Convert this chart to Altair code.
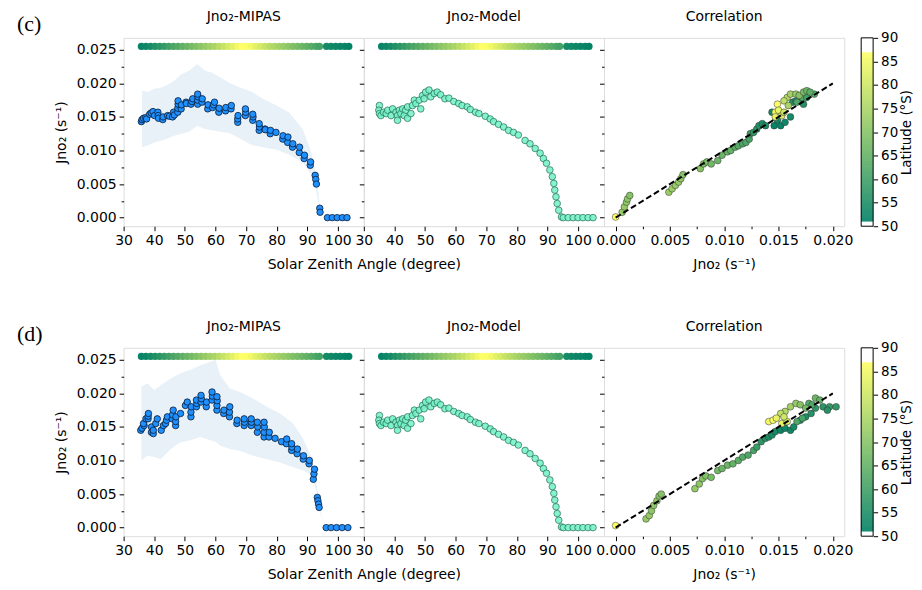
import altair as alt
import pandas as pd
import numpy as np

FONT = "DejaVu Sans"
W, H = 241, 189
CB_GAP, CB_W = 17, 12

# ---------------- data ----------------
TOP_J = 0.0255
top_sza = [35.8, 37.3, 38.8, 40.3, 41.8, 43.3, 44.8, 46.3, 47.8, 49.3, 50.8, 52.3, 53.8,
           55.3, 56.8, 58.3, 59.8, 61.3, 62.8, 64.3, 65.8, 67.3, 68.8, 70.3, 71.8, 73.3,
           74.8, 76.3, 77.8, 79.3, 80.8, 82.3, 83.8, 85.3, 86.8, 88.3, 89.8, 91.3, 92.8,
           94.0, 96.3, 97.8, 99.3, 100.8, 102.3, 103.6]
top_lat = [52, 53, 54, 55.5, 57, 58.5, 60, 61.5, 63, 64.5, 66, 67.5, 69,
           70.5, 72, 73.5, 75, 77, 79, 81, 83, 85, 86.9, 86.5, 85, 83,
           81, 79, 77, 75.5, 74, 72.5, 71, 69.5, 68, 66.5, 65, 63.5, 62,
           60.5, 54, 53.5, 53, 52.5, 52, 51.5]

# MIPAS (c): (SZA, Jno2)
mipas_c = [(35.8, 0.0143), (36.0, 0.0146), (36.5, 0.0148), (37.2, 0.0149), (37.5, 0.0147),
           (38.5, 0.0154), (39.0, 0.0156), (39.6, 0.0158), (40.1, 0.0152),
           (41.2, 0.0157), (41.3, 0.0152), (41.4, 0.0148), (42.8, 0.0146), (42.9, 0.0150),
           (44.4, 0.0152), (45.0, 0.0151), (46.0, 0.0150), (46.3, 0.0157), (46.6, 0.0153),
           (47.7, 0.0157), (47.7, 0.0163), (47.8, 0.0169), (47.8, 0.0174),
           (48.8, 0.0162), (48.9, 0.0168), (50.4, 0.0172), (50.5, 0.0170),
           (52.0, 0.0169), (52.3, 0.0173), (52.6, 0.0177),
           (54.2, 0.0169), (54.2, 0.0175), (54.3, 0.0180), (54.2, 0.0184),
           (55.6, 0.0172), (55.7, 0.0177), (57.5, 0.0162), (57.6, 0.0168),
           (59.1, 0.0164), (59.4, 0.0168), (59.7, 0.0172), (61.1, 0.0157), (61.2, 0.0163),
           (63.3, 0.0159), (63.4, 0.0164), (65.1, 0.0162), (65.2, 0.0167),
           (67.3, 0.0142), (67.3, 0.0147), (67.4, 0.0152),
           (69.8, 0.0152), (69.9, 0.0157), (69.8, 0.0162),
           (72.2, 0.0145), (72.3, 0.0150), (72.2, 0.0154),
           (74.3, 0.0130), (74.4, 0.0135), (74.3, 0.0140),
           (76.2, 0.0132), (76.3, 0.0131), (77.9, 0.0125), (78.0, 0.0130), (79.8, 0.0127),
           (82.0, 0.0117), (82.1, 0.0122), (83.6, 0.0112), (83.7, 0.0120),
           (85.2, 0.0105), (85.3, 0.0110), (87.4, 0.0097), (87.5, 0.0105),
           (89.0, 0.0088), (89.1, 0.0093), (91.0, 0.0078), (91.1, 0.0083),
           (92.6, 0.0063), (92.8, 0.0057), (93.0, 0.0050), (94.1, 0.0014), (94.2, 0.0008),
           (96.6, 0.0), (98.2, 0.0), (99.8, 0.0), (101.5, 0.0), (103.0, 0.0)]

band_c_sza = [36, 38, 40, 42, 44, 46.5, 49, 51.5, 54, 56.5, 59, 61.5, 64.5, 68, 72,
              75.5, 80, 84, 88.5, 91, 92.8, 94, 94.5]
band_c_hi = [0.0189, 0.0187, 0.0192, 0.0193, 0.0197, 0.0204, 0.0214, 0.0219, 0.0229,
             0.0219, 0.0216, 0.0209, 0.0201, 0.0194, 0.0187, 0.0177, 0.0167, 0.0157,
             0.0132, 0.0102, 0.0068, 0.0023, 0.0003]
band_c_lo = [0.0105, 0.0108, 0.0112, 0.0114, 0.0117, 0.0122, 0.0125, 0.0128, 0.0137,
             0.0132, 0.0130, 0.0128, 0.0126, 0.0118, 0.0108, 0.0105, 0.0101, 0.0094,
             0.0082, 0.0066, 0.0043, 0.0013, 0.0001]

# MIPAS (d)
mipas_d = [(35.6, 0.0145), (36.0, 0.0148), (36.7, 0.0152), (36.5, 0.0155), (37.3, 0.0162),
           (38.0, 0.0162), (38.0, 0.0166), (38.1, 0.0170), (39.1, 0.0142), (39.1, 0.0150),
           (39.7, 0.0140), (39.7, 0.0145), (40.5, 0.0155), (41.0, 0.0162),
           (42.3, 0.0145), (43.0, 0.0152), (43.7, 0.0155), (44.0, 0.0160), (44.3, 0.0165),
           (45.9, 0.0162), (46.0, 0.0168), (46.2, 0.0175), (47.0, 0.0152), (47.0, 0.0158),
           (47.1, 0.0165), (48.6, 0.0170), (50.2, 0.0182), (50.8, 0.0187),
           (52.0, 0.0165), (52.0, 0.0172), (52.1, 0.0180), (53.8, 0.0180), (53.9, 0.0185),
           (53.8, 0.0190), (55.3, 0.0187), (55.4, 0.0192), (55.3, 0.0197),
           (57.0, 0.0180), (57.1, 0.0187), (58.9, 0.0190), (59.0, 0.0196), (58.9, 0.0202),
           (60.5, 0.0175), (60.5, 0.0182), (60.6, 0.0189), (60.5, 0.0195),
           (62.7, 0.0170), (62.8, 0.0175), (64.6, 0.0165), (64.6, 0.0172), (64.7, 0.0180),
           (67.0, 0.0155), (67.1, 0.0160), (69.4, 0.0152), (69.5, 0.0157), (69.4, 0.0162),
           (71.7, 0.0152), (71.8, 0.0157), (71.7, 0.0162), (73.7, 0.0142), (73.8, 0.0150),
           (73.7, 0.0157), (75.9, 0.0135), (75.9, 0.0142), (76.0, 0.0150), (75.9, 0.0157),
           (77.5, 0.0135), (77.6, 0.0142), (79.5, 0.0133), (81.6, 0.0128),
           (83.2, 0.0125), (83.3, 0.0132), (84.9, 0.0115), (85.0, 0.0120), (84.9, 0.0125),
           (86.7, 0.0110), (86.8, 0.0117), (88.7, 0.0102), (88.8, 0.0107),
           (90.6, 0.0095), (90.7, 0.0100), (92.0, 0.0072), (92.2, 0.0080), (92.4, 0.0087),
           (93.3, 0.0045), (93.5, 0.0040), (93.7, 0.0035), (93.9, 0.0030),
           (96.2, 0.0), (97.8, 0.0), (99.6, 0.0), (101.4, 0.0), (103.3, 0.0)]

band_d_sza = [35.8, 37.8, 40, 42.1, 45.4, 48.6, 51.9, 55.1, 58.4, 60, 61.6, 64.8, 68.1,
              72.4, 76.8, 81.1, 85.4, 88.7, 91.4, 93, 94.1, 95.2]
band_d_hi = [0.0210, 0.0215, 0.0205, 0.0212, 0.0222, 0.0230, 0.0235, 0.0242, 0.0247,
             0.0250, 0.0227, 0.0207, 0.0202, 0.0192, 0.0180, 0.0170, 0.0155, 0.0132,
             0.0105, 0.0067, 0.0032, 0.0008]
band_d_lo = [0.0100, 0.0107, 0.0105, 0.0102, 0.0117, 0.0127, 0.0130, 0.0135, 0.0130,
             0.0128, 0.0122, 0.0117, 0.0114, 0.0107, 0.0102, 0.0097, 0.0090, 0.0085,
             0.0078, 0.0055, 0.0025, 0.0008]

# Model: (SZA, Jno2)
model_pts = [(35.1, 0.0167), (34.9, 0.0160), (35.1, 0.0155), (35.6, 0.0152), (36.4, 0.0157),
             (37.3, 0.0155), (37.8, 0.0160), (38.9, 0.0152), (39.4, 0.0162), (40.5, 0.0157),
             (41.0, 0.0152), (41.0, 0.0145), (41.6, 0.0160), (42.1, 0.0155), (42.7, 0.0162),
             (43.2, 0.0152), (43.7, 0.0160), (44.3, 0.0148), (44.3, 0.0165), (45.4, 0.0155),
             (45.9, 0.0167), (46.5, 0.0175), (47.0, 0.0170), (48.1, 0.0175), (48.6, 0.0162),
             (49.2, 0.0182), (49.7, 0.0177), (50.2, 0.0187), (51.3, 0.0190), (51.9, 0.0180),
             (53.0, 0.0185), (54.0, 0.0187), (55.1, 0.0183), (56.5, 0.0177), (57.8, 0.0178),
             (59.4, 0.0173), (61.0, 0.0170), (62.1, 0.0167), (63.8, 0.0165), (64.8, 0.0161),
             (66.5, 0.0157), (67.6, 0.0155), (69.7, 0.0151), (71.3, 0.0147), (72.4, 0.0143),
             (74.0, 0.0139), (75.7, 0.0135), (77.3, 0.0130), (78.9, 0.0127), (80.5, 0.0123),
             (82.7, 0.0115), (84.3, 0.0110), (86.0, 0.0103), (87.6, 0.0096), (88.7, 0.0088),
             (89.7, 0.0081), (90.8, 0.0071), (91.6, 0.0061), (92.1, 0.0051), (92.4, 0.0041),
             (92.8, 0.0031), (93.2, 0.0021), (93.7, 0.0011), (94.6, 0.0001), (95.2, 0.0),
             (96.8, 0.0), (98.4, 0.0), (100.0, 0.0), (101.6, 0.0), (103.3, 0.0), (104.9, 0.0)]

# Correlation: (Jno2 x, Jno2 y, latitude)
corr_c = [(0.0, 0.0001, 86.5),
          (0.0006, 0.0008, 72), (0.0008, 0.0016, 72), (0.0010, 0.0023, 71), (0.0011, 0.0028, 71),
          (0.0013, 0.0033, 70),
          (0.0049, 0.0038, 73), (0.0052, 0.0043, 73), (0.0055, 0.0048, 72), (0.0058, 0.0053, 72),
          (0.0060, 0.0058, 71), (0.0062, 0.0064, 70),
          (0.0078, 0.0073, 70), (0.0081, 0.0080, 69), (0.0084, 0.0083, 68), (0.0088, 0.0080, 67),
          (0.0094, 0.0085, 66), (0.0098, 0.0093, 66), (0.0103, 0.0098, 65), (0.0106, 0.0100, 65),
          (0.0110, 0.0105, 64), (0.0113, 0.0107, 63), (0.0117, 0.0110, 62), (0.0120, 0.0112, 62),
          (0.0123, 0.0117, 61), (0.0124, 0.0125, 60), (0.0127, 0.0127, 58), (0.0130, 0.0132, 57),
          (0.0132, 0.0137, 56), (0.0135, 0.0140, 55), (0.0138, 0.0137, 55),
          (0.0144, 0.0157, 53), (0.0146, 0.0137, 52), (0.0149, 0.0145, 53), (0.0152, 0.0137, 52),
          (0.0156, 0.0142, 53), (0.0161, 0.0150, 54), (0.0163, 0.0172, 55), (0.0166, 0.0174, 55),
          (0.0170, 0.0177, 56), (0.0173, 0.0169, 56),
          (0.0167, 0.0172, 62), (0.0172, 0.0179, 63), (0.0183, 0.0184, 63), (0.0176, 0.0179, 60),
          (0.0158, 0.0179, 76), (0.0161, 0.0184, 74), (0.0166, 0.0184, 72), (0.0169, 0.0182, 70),
          (0.0173, 0.0187, 68), (0.0176, 0.0189, 66), (0.0179, 0.0187, 64), (0.0155, 0.0174, 78),
          (0.0159, 0.0167, 75),
          (0.0147, 0.0157, 85), (0.0149, 0.0169, 86.5), (0.0150, 0.0160, 84), (0.0153, 0.0152, 82),
          (0.0155, 0.0157, 80), (0.0147, 0.0150, 84)]

corr_d = [(0.0, 0.0003, 86.5),
          (0.0028, 0.0013, 72), (0.0031, 0.0018, 72), (0.0033, 0.0025, 71), (0.0035, 0.0033, 71),
          (0.0038, 0.0040, 71), (0.0040, 0.0047, 70), (0.0042, 0.0050, 70),
          (0.0073, 0.0058, 72), (0.0077, 0.0065, 71), (0.0080, 0.0073, 70), (0.0083, 0.0077, 69),
          (0.0088, 0.0075, 68),
          (0.0094, 0.0085, 67), (0.0098, 0.0088, 66), (0.0103, 0.0093, 66), (0.0108, 0.0095, 65),
          (0.0113, 0.0100, 64), (0.0117, 0.0105, 63), (0.0122, 0.0108, 62), (0.0127, 0.0115, 61),
          (0.0130, 0.0120, 59), (0.0134, 0.0128, 57), (0.0138, 0.0133, 56), (0.0141, 0.0135, 55),
          (0.0144, 0.0138, 55),
          (0.0147, 0.0143, 54), (0.0152, 0.0145, 53), (0.0156, 0.0148, 53), (0.0161, 0.0145, 53),
          (0.0164, 0.0150, 54), (0.0170, 0.0160, 55), (0.0175, 0.0165, 55), (0.0180, 0.0170, 56),
          (0.0184, 0.0178, 57), (0.0191, 0.0180, 57), (0.0197, 0.0180, 58), (0.0203, 0.0180, 58),
          (0.0195, 0.0175, 56),
          (0.0178, 0.0185, 63), (0.0181, 0.0183, 62), (0.0167, 0.0158, 62), (0.0172, 0.0163, 61),
          (0.0161, 0.0180, 74), (0.0166, 0.0185, 72), (0.0170, 0.0183, 70), (0.0175, 0.0178, 68),
          (0.0156, 0.0173, 76), (0.0152, 0.0170, 78), (0.0184, 0.0193, 66), (0.0188, 0.0190, 65),
          (0.0141, 0.0158, 85), (0.0145, 0.0160, 86.5), (0.0148, 0.0163, 84), (0.0153, 0.0155, 84),
          (0.0158, 0.0158, 82), (0.0155, 0.0165, 80)]

one_to_one = [0.0, 0.020]
cbar_ticks = [50, 55, 60, 65, 70, 75, 80, 85, 90]
sza_ticks = [30, 40, 50, 60, 70, 80, 90, 100]

# ---------------- styling helpers ----------------
LAT_DOMAIN = [51.0, 86.9]
summer = alt.Scale(domain=LAT_DOMAIN, range=["#008066", "#ffff66"], interpolate="rgb")
SZA_DOMAIN = [30, 108.5]
J_DOMAIN = [-0.00128, 0.02678]
CORR_DOMAIN = [-0.00107, 0.02105]

y_vals = [round(i * 0.0025, 4) for i in range(11)]
x_corr_vals = [round(i * 0.0025, 4) for i in range(9)]
minor_test = "round(datum.value*10000) % 50 != 0"
label_expr = f"({minor_test}) ? '' : format(datum.value, '.3f')"
tick_cond = {"condition": {"test": minor_test, "value": 2.5}, "value": 4.5}

common_axis = dict(grid=False, domain=False, tickColor="black", labelColor="black",
                   labelFont=FONT, titleFont=FONT,
                   titleFontWeight="normal", titleColor="black", labelFlush=False,
                   labelOverlap=False)

Y_AX_LABELED = alt.Axis(values=y_vals, labelExpr=label_expr, tickSize=tick_cond,
                        title="Jno₂ (s⁻¹)", titlePadding=8, labelPadding=3,
                        labelFontSize=14, titleFontSize=14, **common_axis)
Y_AX_PLAIN = alt.Axis(values=y_vals, labels=False, tickSize=tick_cond, title=None,
                      **common_axis)
X_SZA_PLAIN = alt.Axis(values=sza_ticks, tickSize=4.5, title=None, labelPadding=3,
                       labelFontSize=14, **common_axis)
X_SZA_TITLED = alt.Axis(values=sza_ticks, tickSize=4.5, title="Solar Zenith Angle (degree)",
                        titleX=0, titleAlign="center", titlePadding=10, labelPadding=3,
                        labelFontSize=14, titleFontSize=14, **common_axis)
X_CORR = alt.Axis(values=x_corr_vals, labelExpr=label_expr, tickSize=tick_cond,
                  title="Jno₂ (s⁻¹)", titlePadding=10, labelPadding=3,
                  labelFontSize=14, titleFontSize=14, **common_axis)
CB_AXIS = alt.Axis(orient="right", values=cbar_ticks, tickSize=4.5, title="Latitude (°S)",
                   titleAngle=270, titleBaseline="top", titlePadding=2, labelPadding=3,
                   labelFontSize=13.5, titleFontSize=13.5, **common_axis)

ysc = alt.Scale(domain=J_DOMAIN, nice=False, zero=False)
xsc = alt.Scale(domain=SZA_DOMAIN, nice=False, zero=False)
csc = alt.Scale(domain=CORR_DOMAIN, nice=False, zero=False)


def label_layer(text, x, y, font, size):
    return alt.Chart(pd.DataFrame({"t": [text]})).mark_text(
        font=font, fontSize=size, align="center" if font == FONT else "left",
        baseline="middle", color="black").encode(
        x=alt.value(x), y=alt.value(y), text="t:N")


def top_row(xax, yax):
    tdf = pd.DataFrame({"sza": top_sza, "lat": top_lat, "j": [TOP_J] * len(top_sza)})
    return alt.Chart(tdf).mark_circle(size=52, opacity=1).encode(
        x=alt.X("sza:Q", scale=xsc, axis=xax),
        y=alt.Y("j:Q", scale=ysc, axis=yax),
        color=alt.Color("lat:Q", scale=summer, legend=None))


def mipas_panel(pts, bsza, blo, bhi, tag):
    pdf = pd.DataFrame(pts, columns=["sza", "j"])
    bdf = pd.DataFrame({"sza": bsza, "lo": blo, "hi": bhi})
    band = alt.Chart(bdf).mark_area(color="#1f77b4", opacity=0.1).encode(
        x=alt.X("sza:Q", scale=xsc, axis=X_SZA_PLAIN),
        y=alt.Y("lo:Q", scale=ysc, axis=Y_AX_LABELED),
        y2="hi:Q")
    pts_ch = alt.Chart(pdf).mark_circle(size=42, color="#1e90ff", opacity=1,
                                        stroke="#0a1a33", strokeWidth=0.8).encode(
        x=alt.X("sza:Q", scale=xsc, axis=X_SZA_PLAIN),
        y=alt.Y("j:Q", scale=ysc, axis=Y_AX_LABELED))
    return alt.layer(band, top_row(X_SZA_PLAIN, Y_AX_LABELED), pts_ch,
                     label_layer(tag, -107, -14, "Liberation Serif", 22),
                     label_layer("Jno₂-MIPAS", W / 2, -21, FONT, 14)
                     ).properties(width=W, height=H)


def model_panel():
    mdf = pd.DataFrame(model_pts, columns=["sza", "j"])
    pts_ch = alt.Chart(mdf).mark_circle(size=44, color="#78f2c8", opacity=0.9,
                                        stroke="#1f6e57", strokeWidth=0.8).encode(
        x=alt.X("sza:Q", scale=xsc, axis=X_SZA_TITLED),
        y=alt.Y("j:Q", scale=ysc, axis=Y_AX_PLAIN))
    return alt.layer(pts_ch, top_row(X_SZA_TITLED, Y_AX_PLAIN),
                     label_layer("Jno₂-Model", W / 2, -21, FONT, 14)
                     ).properties(width=W, height=H)


def corr_panel(rows):
    cdf = pd.DataFrame(rows, columns=["x", "y", "lat"])
    pts_ch = alt.Chart(cdf).mark_circle(size=46, opacity=1, stroke="#333333",
                                        strokeWidth=0.5).encode(
        x=alt.X("x:Q", scale=csc, axis=X_CORR),
        y=alt.Y("y:Q", scale=ysc, axis=Y_AX_PLAIN),
        color=alt.Color("lat:Q", scale=summer, legend=None))
    ldf = pd.DataFrame({"x": one_to_one, "y": one_to_one})
    line = alt.Chart(ldf).mark_line(color="black", strokeWidth=2, strokeDash=[6, 3]).encode(
        x=alt.X("x:Q", scale=csc, axis=X_CORR), y=alt.Y("y:Q", scale=ysc, axis=Y_AX_PLAIN))
    return alt.layer(pts_ch, line, label_layer("Correlation", W / 2, -21, FONT, 14)
                     ).properties(width=W, height=H)


def colorbar():
    lats = np.round(np.arange(LAT_DOMAIN[0], LAT_DOMAIN[1], 0.1), 2)
    cdf = pd.DataFrame({"lat": lats, "lat2": np.minimum(lats + 0.15, LAT_DOMAIN[1])})
    ysc_cb = alt.Scale(domain=[50, 90], nice=False, zero=False)
    grad = alt.Chart(cdf).mark_rect(strokeWidth=0).encode(
        x=alt.value(CB_GAP), x2=alt.value(CB_GAP + CB_W),
        y=alt.Y("lat:Q", scale=ysc_cb, axis=CB_AXIS),
        y2="lat2:Q",
        color=alt.Color("lat:Q", scale=summer, legend=None))
    frame = alt.Chart(pd.DataFrame({"k": [0]})).mark_rect(
        fill="transparent", stroke="black", strokeWidth=1).encode(
        x=alt.value(CB_GAP), x2=alt.value(CB_GAP + CB_W), y=alt.value(0), y2=alt.value(H))
    return alt.layer(grad, frame).properties(
        width=CB_GAP + CB_W, height=H, view=alt.ViewBackground(stroke="transparent"))


chart = alt.concat(
    mipas_panel(mipas_c, band_c_sza, band_c_lo, band_c_hi, "(c)"), model_panel(),
    corr_panel(corr_c), colorbar(),
    mipas_panel(mipas_d, band_d_sza, band_d_lo, band_d_hi, "(d)"), model_panel(),
    corr_panel(corr_d), colorbar(),
    columns=4, spacing={"row": 122, "column": 0}, bounds="flush"
).properties(
    padding={"left": 8, "top": 0, "right": 0, "bottom": 0}
).configure_view(
    stroke="black", strokeWidth=1
).configure_axis(
    labelOverlap=False
).configure(background="white")

chart.save("out.html", embed_options={"renderer": "svg", "actions": False})
